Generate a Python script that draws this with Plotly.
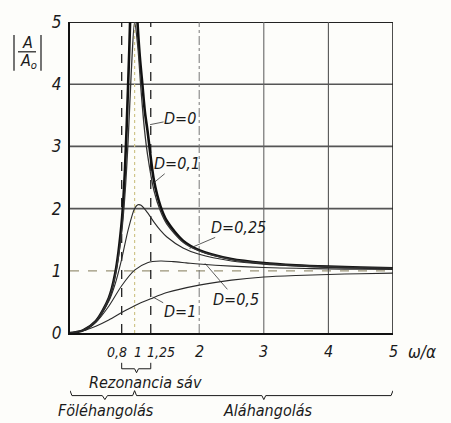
import plotly.graph_objects as go

# ---- data ----
x_d0 = [0, 0.2, 0.4, 0.6, 0.7, 0.8, 0.85, 0.9, 0.93, 0.96, None,
        1.0, 1.04, 1.08, 1.12, 1.16, 1.2, 1.3, 1.4, 1.5, 1.75, 2, 2.5, 3, 3.5, 4, 4.5, 5]
y_d0 = [0, 0.042, 0.19, 0.56, 0.96, 1.78, 2.60, 4.0, 5.0, 7.0, None,
        7.0, 5.1, 4.45, 4.0, 3.55, 3.25, 2.45, 2.04, 1.80, 1.485, 1.333, 1.19, 1.125, 1.089, 1.067, 1.052, 1.042]

x_d01 = [0, 0.2, 0.4, 0.6, 0.7, 0.8, 0.85, 0.9, 0.95, 1.0, 1.05, 1.1, 1.15, 1.2, 1.3, 1.4, 1.5, 1.75, 2, 2.5, 3, 3.5, 4, 4.5, 5]
y_d01 = [0, 0.042, 0.19, 0.553, 0.927, 1.625, 2.22, 3.10, 4.23, 5.0, 4.6, 3.9, 3.3, 2.87, 2.29, 1.96, 1.75, 1.46, 1.32, 1.185, 1.12, 1.087, 1.065, 1.051, 1.041]

x_d025 = [0, 0.2, 0.4, 0.6, 0.7, 0.8, 0.9, 1.0, 1.05, 1.1, 1.2, 1.3, 1.4, 1.5, 1.75, 2, 2.5, 3, 3.5, 4, 4.5, 5]
y_d025 = [0, 0.041, 0.185, 0.509, 0.792, 1.189, 1.658, 2.0, 2.061, 2.055, 1.935, 1.783, 1.65, 1.544, 1.367, 1.265, 1.158, 1.106, 1.076, 1.057, 1.045, 1.036]

x_d05 = [0, 0.2, 0.4, 0.6, 0.8, 1.0, 1.2, 1.4, 1.6, 1.8, 2, 2.5, 3, 3.5, 4, 4.5, 5]
y_d05 = [0, 0.041, 0.17, 0.43, 0.76, 1.01, 1.13, 1.157, 1.147, 1.128, 1.109, 1.075, 1.053, 1.04, 1.031, 1.024, 1.02]

x_d1 = [0, 0.2, 0.4, 0.6, 0.8, 1.0, 1.25, 1.5, 2, 2.5, 3, 3.5, 4, 4.5, 5]
y_d1 = [0, 0.035, 0.11, 0.21, 0.33, 0.44, 0.55, 0.65, 0.77, 0.85, 0.90, 0.925, 0.941, 0.953, 0.962]

x_tickvals = [0.8, 1, 1.25, 2, 3, 4, 5]
x_ticktext = ["0,8", "1", "1,25", "2", "3", "4", "5"]
y_tickvals = [0, 1, 2, 3, 4, 5]
y_ticktext = ["0", "1", "2", "3", "4", "5"]

labels = ["D=0", "D=0,1", "D=0,25", "D=0,5", "D=1"]

# style-only horizontal nudges (px) and sizes for crowded x tick labels
x_label_shift = [-5, 3, 10, 0, 0, 0, 0]
x_label_size = [14, 14, 14, 16, 16, 16, 16]

FONT = "DejaVu Sans Condensed, DejaVu Sans, sans-serif"
INK = "#1a1a1a"

# plot area in pixels
L, R, T, B = 70, 393, 20, 333

fig = go.Figure()

series = [
    (x_d0, y_d0, 2.6, "#111"),
    (x_d01, y_d01, 1.3, "#333"),
    (x_d025, y_d025, 1.1, "#2a2a2a"),
    (x_d05, y_d05, 1.1, "#2a2a2a"),
    (x_d1, y_d1, 1.1, "#2a2a2a"),
]
for (xs, ys, w, c), name in zip(series, labels):
    fig.add_trace(go.Scatter(x=xs, y=ys, mode="lines", name=name,
                             line=dict(color=c, width=w, shape="spline", smoothing=0.8),
                             connectgaps=False, showlegend=False, hoverinfo="skip"))

# ---- grid lines ----
def hline(y, color, width, dash="solid"):
    fig.add_shape(type="line", xref="x", yref="y", x0=0, x1=5, y0=y, y1=y,
                  line=dict(color=color, width=width, dash=dash), layer="below")

def vline(x, color, width, dash="solid"):
    fig.add_shape(type="line", xref="x", yref="y", x0=x, x1=x, y0=0, y1=5,
                  line=dict(color=color, width=width, dash=dash), layer="below")

hline(1, "#9a9478", 1.2, "dash")
for yy in [2, 3, 4]:
    hline(yy, "#555", 1.6)
hline(5, "#222", 2)
vline(1, "#cfc58a", 1.2, "dot")
vline(2, "#777", 1, "dashdot")
vline(3, "#666", 1.1)
vline(4, "#555", 1.1)
vline(5, "#222", 1.6)
vline(0.8, "#222", 1.3, "dash")
vline(1.25, "#222", 1.3, "dash")

# ---- curve labels with leader lines ----
label_pos = [
    (1.24, 3.35, 30, -6),
    (1.28, 2.40, 24, -20),
    (1.85, 1.36, 49, -21),
    (2.09, 1.12, 31, 36),
    (1.28, 0.58, 27, 15),
]
LBL = dict(family=FONT, size=16, color=INK, style="italic")
for name, (lx, ly, ax, ay) in zip(labels, label_pos):
    fig.add_annotation(x=lx, y=ly, xref="x", yref="y", text=name, showarrow=True,
                       arrowhead=0, arrowwidth=0.8, arrowcolor="#333", ax=ax, ay=ay,
                       font=LBL, bgcolor="rgba(0,0,0,0)", borderpad=0)

# paper coordinates from pixel positions (paper = plot area)
def px(xp):
    return (xp - L) / (R - L)
def py(yp):
    return (B - yp) / (B - T)

def text_at(xp, yp, text, size=16):
    fig.add_annotation(x=px(xp), y=py(yp), xref="paper", yref="paper", text=text,
                       showarrow=False, xanchor="center", yanchor="middle",
                       font=dict(family=FONT, size=size, color=INK, style="italic"))

# ---- x tick labels ----
for v, t, s, fs in zip(x_tickvals, x_ticktext, x_label_shift, x_label_size):
    fig.add_annotation(x=v, y=py(352), xref="x", yref="paper", text=t, showarrow=False,
                       xanchor="center", yanchor="middle", xshift=s,
                       font=dict(family=FONT, size=fs, color=INK, style="italic"))

# ---- y axis title |A/A0| ----
text_at(27, 41, "A")
text_at(28, 60, "A<sub>o</sub>")
fig.add_shape(type="line", xref="paper", yref="paper", x0=px(18), x1=px(36), y0=py(50), y1=py(50),
              line=dict(color=INK, width=1.2))
for bx in [14, 41]:
    fig.add_shape(type="line", xref="paper", yref="paper", x0=px(bx), x1=px(bx), y0=py(33), y1=py(69),
                  line=dict(color=INK, width=1.2))

# ---- x axis label ----
text_at(422, 352, "ω/α", 17)

# ---- resonance band bracket ----
fig.add_shape(type="path", xref="x", yref="paper",
              path="M 0.8,%f L 0.8,%f L 1.0,%f L 1.03,%f L 1.06,%f L 1.25,%f L 1.25,%f" % (
                  py(363), py(369), py(369), py(373), py(369), py(369), py(363)),
              line=dict(color=INK, width=1))
text_at(145, 383, "Rezonancia sáv")

# ---- over/under tuning braces ----
fig.add_shape(type="path", xref="x", yref="paper",
              path=("M 0,%f L 0.03,%f L 0.5,%f L 0.54,%f L 0.58,%f L 0.97,%f L 1.0,%f "
                    "L 1.03,%f L 2.97,%f L 3.0,%f L 3.03,%f L 4.97,%f L 5.0,%f") % (
                  py(391), py(396), py(396), py(400), py(396), py(396), py(391),
                  py(396), py(396), py(400), py(396), py(396), py(391)),
              line=dict(color=INK, width=1))
text_at(106, 411, "Föléhangolás")
text_at(268, 411, "Aláhangolás")

fig.update_xaxes(range=[0, 5], tickvals=x_tickvals, ticktext=x_ticktext, showticklabels=False,
                 showgrid=False, zeroline=False, showline=True, linecolor="#111", linewidth=2,
                 ticks="", fixedrange=True)
fig.update_yaxes(range=[0, 5], tickvals=y_tickvals, ticktext=y_ticktext, showgrid=False,
                 zeroline=False, showline=True, linecolor="#111", linewidth=2,
                 ticks="outside", ticklen=3, tickcolor="rgba(0,0,0,0)",
                 tickfont=dict(family=FONT, size=17, color=INK, style="italic"), fixedrange=True)

fig.update_layout(width=451, height=423, margin=dict(l=L, r=451 - R, t=T, b=423 - B),
                  paper_bgcolor="#fdfdfa", plot_bgcolor="#fdfdfa", showlegend=False)

fig.write_html("out.html", config={"displayModeBar": False},
               post_script="document.body.style.margin='0';")
